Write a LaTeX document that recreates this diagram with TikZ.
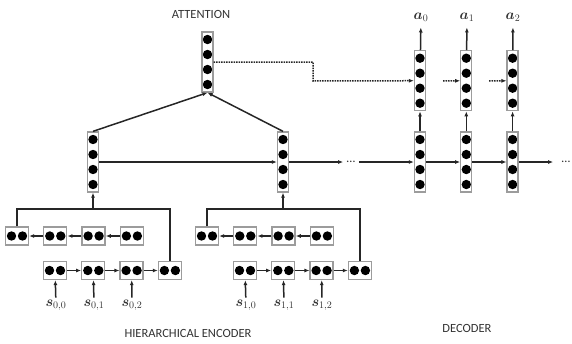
\documentclass[tikz,border=0pt]{standalone}
\usepackage{amsmath,bm}
\usepackage[no-math]{fontspec}
\setmainfont{Carlito}
\usetikzlibrary{positioning,arrows.meta}
\definecolor{cellline}{HTML}{9C9C9C}
\definecolor{labeltext}{HTML}{333333}

\begin{document}
\begin{tikzpicture}[x=1pt,y=-1pt,node distance=14pt and 14pt,
  every node/.style={font=\fontsize{12.5}{14}\selectfont,text=labeltext},
  vcell/.style={draw=cellline,line width=1.3pt,fill=white,minimum width=11pt,minimum height=60pt,inner sep=0pt,
    path picture={\foreach \k in {-22.5,-7.5,7.5,22.5} \fill[black] ([yshift=\k pt]path picture bounding box.center) circle (4.7pt);}},
  hcell/.style={draw=cellline,line width=1.3pt,fill=white,minimum width=23pt,minimum height=18pt,inner sep=0pt,
    path picture={\foreach \k in {-5.5,5.5} \fill[black] ([xshift=\k pt]path picture bounding box.center) circle (4.7pt);}},
  conn/.style={-{Latex[length=5pt,width=4pt]},line width=1.5pt,black!85},
  dotconn/.style={conn,densely dotted},
  lab/.style={font=\fontsize{14.5}{16}\selectfont,inner sep=2pt}]
\useasboundingbox (0,0) rectangle (572,343);
\node[vcell] (att) at (207.5,62) {};
\node (atttitle) at (201,14) {ATTENTION};
\node[vcell] (enc0) at (93,162) {};
\node[vcell] (enc1) at (283,162) {};
\node (gap0) at (351,162) {\dots};
\node[vcell] (dec0) at (420,162) {};
\node[vcell,right=34pt of dec0] (dec1) {};
\node[vcell,right=34pt of dec1] (dec2) {};
\node (gap1) at (566,162) {\dots};
\node[vcell,above=20pt of dec0] (out0) {};
\node[vcell,above=20pt of dec1] (out1) {};
\node[vcell,above=20pt of dec2] (out2) {};
\node[lab] (a0) at (421,17) {$\bm{a}_0$};
\node[lab] (a1) at (467,17) {$\bm{a}_1$};
\node[lab] (a2) at (513,17) {$\bm{a}_2$};
\node (dectitle) at (467,328) {DECODER};
\node (enctitle) at (188,333) {HIERARCHICAL ENCODER};

\node[hcell] (b00) at (17,236) {};
\node[hcell,right=of b00] (b01) {};
\node[hcell,right=of b01] (b02) {};
\node[hcell,right=of b02] (b03) {};
\node[hcell] (f00) at (55,270.5) {};
\node[hcell,right=of f00] (f01) {};
\node[hcell,right=of f01] (f02) {};
\node[hcell,right=of f02] (f03) {};
\node[lab] (s00) at (56,305) {$\bm{s}_{0,0}$};
\node[lab] (s01) at (94,305) {$\bm{s}_{0,1}$};
\node[lab] (s02) at (132,305) {$\bm{s}_{0,2}$};

\node[hcell] (b10) at (207,236) {};
\node[hcell,right=of b10] (b11) {};
\node[hcell,right=of b11] (b12) {};
\node[hcell,right=of b12] (b13) {};
\node[hcell] (f10) at (245,270.5) {};
\node[hcell,right=of f10] (f11) {};
\node[hcell,right=of f11] (f12) {};
\node[hcell,right=of f12] (f13) {};
\node[lab] (s10) at (246,305) {$\bm{s}_{1,0}$};
\node[lab] (s11) at (284,305) {$\bm{s}_{1,1}$};
\node[lab] (s12) at (322,305) {$\bm{s}_{1,2}$};

\coordinate (j0) at (93,209);
\coordinate (j1) at (283,209);
\coordinate (k0) at (313,81);
\coordinate (k1) at (443,81);
\coordinate (k2) at (489,81);

\draw[conn] (s00) -- (f00); \draw[conn] (s01) -- (f01); \draw[conn] (s02) -- (f02);
\draw[conn] (f00) -- (f01); \draw[conn] (f01) -- (f02); \draw[conn] (f02) -- (f03);
\draw[conn] (b03) -- (b02); \draw[conn] (b02) -- (b01); \draw[conn] (b01) -- (b00);
\draw[line width=1.5pt,black!85] (b00.north) |- (j0) -| (f03.north);
\draw[conn] (j0) -- (enc0);
\draw[conn] (s10) -- (f10); \draw[conn] (s11) -- (f11); \draw[conn] (s12) -- (f12);
\draw[conn] (f10) -- (f11); \draw[conn] (f11) -- (f12); \draw[conn] (f12) -- (f13);
\draw[conn] (b13) -- (b12); \draw[conn] (b12) -- (b11); \draw[conn] (b11) -- (b10);
\draw[line width=1.5pt,black!85] (b10.north) |- (j1) -| (f13.north);
\draw[conn] (j1) -- (enc1);

\draw[conn] (enc0.north) -- (att.south);
\draw[conn] (enc1.north) -- (att.south);
\draw[conn] (enc0) -- (enc1);
\draw[conn] (enc1) -- (gap0);
\draw[conn] (gap0) -- (dec0);
\draw[conn] (dec0) -- (dec1); \draw[conn] (dec1) -- (dec2);
\draw[conn,shorten >=5pt] (dec2) -- (gap1);
\draw[conn] (dec0) -- (out0); \draw[conn] (dec1) -- (out1); \draw[conn] (dec2) -- (out2);
\draw[conn,shorten >=4pt] (out0) -- (a0);
\draw[conn,shorten >=4pt] (out1) -- (a1);
\draw[conn,shorten >=4pt] (out2) -- (a2);
\draw[dotconn] (att.east) -| (k0) -- (out0);
\draw[dotconn] (k1) -- (out1);
\draw[dotconn] (k2) -- (out2);
\end{tikzpicture}
\end{document}
